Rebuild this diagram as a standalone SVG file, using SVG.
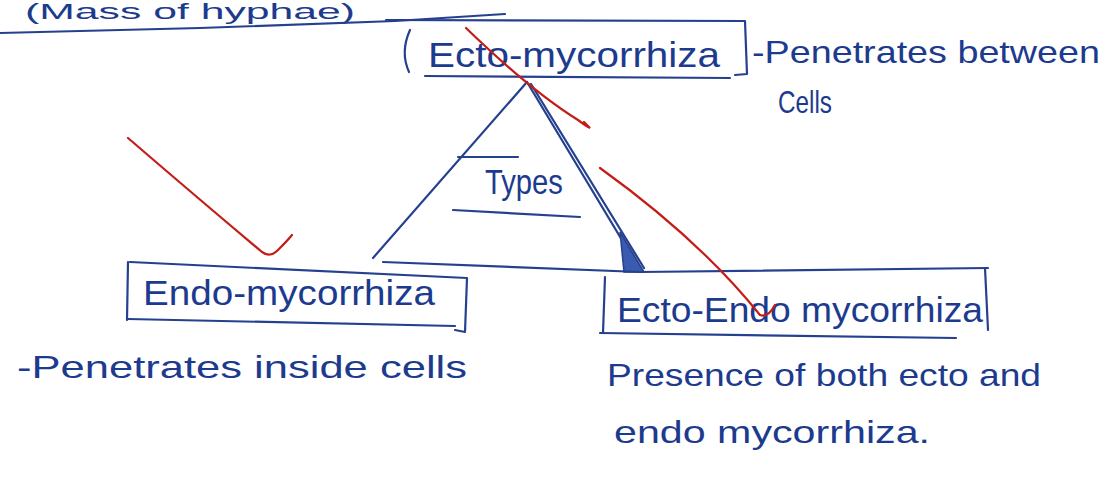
<svg xmlns="http://www.w3.org/2000/svg" width="1114" height="477" viewBox="0 0 1114 477">
<style>
.t{font-family:"Liberation Sans","DejaVu Sans",sans-serif;fill:#1d3b8e;font-size:35px}
.s{font-family:"Liberation Sans","DejaVu Sans",sans-serif;fill:#1d3b8e;font-size:32px}
.ln{fill:none;stroke:#25408f;stroke-width:2.2;stroke-linecap:round;stroke-linejoin:round}
.rd{fill:none;stroke:#c31d17;stroke-width:2.2;stroke-linecap:round}
</style>
<rect width="1114" height="477" fill="#ffffff"/>
<g id="header">
<text class="s" x="25" y="19" style="font-size:22px" textLength="330" lengthAdjust="spacingAndGlyphs">(Mass of hyphae)</text>
<path class="ln" d="M0,33 L200,28 L395,21 L505,14"/>
</g>
<g id="ecto">
<path class="ln" d="M386,20 L745,21 L747,74 L735,75"/>
<path class="ln" d="M410,30 Q400,52 409,72"/>
<path class="ln" d="M425,76 L730,78"/>
<text class="t" x="428" y="67" textLength="292" lengthAdjust="spacingAndGlyphs">Ecto-mycorrhiza</text>
<text class="s" x="752" y="63" textLength="348" lengthAdjust="spacingAndGlyphs">-Penetrates between</text>
<text class="s" x="778" y="113" textLength="54" lengthAdjust="spacingAndGlyphs">Cells</text>
</g>
<g id="types">
<path class="ln" d="M458,157 L518,157"/>
<text class="t" x="485" y="194" textLength="78" lengthAdjust="spacingAndGlyphs">Types</text>
<path class="ln" d="M453,210 L580,217"/>
</g>
<g id="endo">
<path class="ln" d="M130,262 L467,278 L465,332 L455,330"/>
<path class="ln" d="M128,262 L127,320"/>
<path class="ln" d="M128,319 L455,326"/>
<text class="t" x="143" y="305" textLength="292" lengthAdjust="spacingAndGlyphs">Endo-mycorrhiza</text>
<text class="s" x="17" y="378" textLength="450" lengthAdjust="spacingAndGlyphs">-Penetrates  inside cells</text>
</g>
<g id="ectoendo">
<path class="ln" d="M605,277 L603,333"/>
<path class="ln" d="M600,333 L956,338"/>
<path class="ln" d="M985,268 L988,330"/>
<text class="t" x="617" y="322" textLength="366" lengthAdjust="spacingAndGlyphs">Ecto-Endo mycorrhiza</text>
<text class="s" x="607" y="386" textLength="434" lengthAdjust="spacingAndGlyphs">Presence of  both ecto and</text>
<text class="s" x="614" y="443" textLength="316" lengthAdjust="spacingAndGlyphs">endo mycorrhiza.</text>
</g>
<g id="connectors">
<path class="ln" d="M527,82 L373,258"/>
<path class="ln" d="M527,82 L640,270"/>
<path class="ln" d="M531,84 L644,268"/>
<path d="M620,232 L644,272 L624,272 Z" fill="#3a5bb0" stroke="#25408f" stroke-width="1.5"/>
<path class="ln" d="M383,262 L640,272 L988,268"/>
</g>
<g id="marks">
<path class="rd" d="M466,28 Q530,90 578,120 Q586,126 590,128 L584,122"/>
<path class="rd" d="M128,138 Q200,200 262,252 Q270,258 278,250 Q288,240 292,235"/>
<path class="rd" d="M600,168 Q700,240 760,315 Q768,318 775,305"/>
</g>
</svg>
